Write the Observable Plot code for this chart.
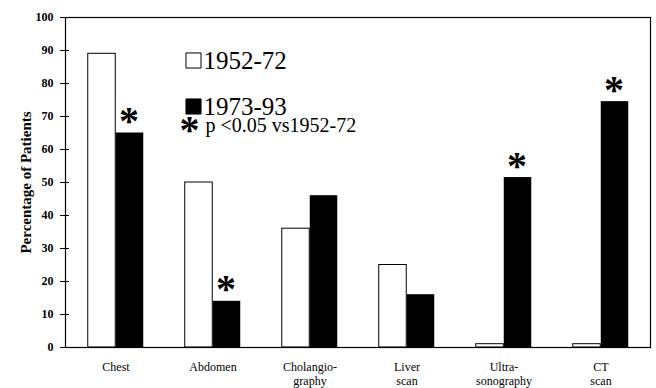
<!DOCTYPE html>
<html>
<head>
<meta charset="utf-8">
<script src="https://cdn.jsdelivr.net/npm/d3@7"></script>
<script src="https://cdn.jsdelivr.net/npm/@observablehq/plot@0.6"></script>
<style>
  html, body { margin: 0; padding: 0; background: white; }
  #chart { width: 656px; height: 388px; }
  #chart svg text { font-family: "Liberation Serif", "Times New Roman", Times, serif; }
</style>
</head>
<body>
<div id="chart"></div>
<script>
const categories = ["Chest", "Abdomen", "Cholangio-\ngraphy", "Liver\nscan", "Ultra-\nsonography", "CT\nscan"];
const values1952 = [89, 50, 36, 25, 1, 1];
const values1973 = [65, 14, 46, 16, 51.5, 74.5];
const significant = [true, true, false, false, true, true];
const seriesNames = ["1952-72", "1973-93"];
const yTicks = [0, 10, 20, 30, 40, 50, 60, 70, 80, 90, 100];
const yTitle = "Percentage of Patients";
const noteText = "p <0.05 vs1952-72";
const starGlyph = "*";

const data = categories.map((c, i) => ({cat: c, v1: values1952[i], v2: values1973[i], sig: significant[i]}));
const starData = data.filter(d => d.sig);

const serif = "Liberation Serif, Times New Roman, Times, serif";

const chart = Plot.plot({
  width: 656,
  height: 388,
  marginLeft: 65,
  marginRight: 6,
  marginTop: 17,
  marginBottom: 41,
  style: {fontFamily: serif, background: "white", color: "black"},
  x: {domain: categories, padding: 0, axis: null},
  y: {domain: [0, 100], axis: null},
  marks: [
    Plot.barY(data, {x: "cat", y: "v1", fill: "white", stroke: "black", strokeWidth: 1, insetLeft: 20.75, insetRight: 48.75}),
    Plot.barY(data, {x: "cat", y: "v2", fill: "black", insetLeft: 48.75, insetRight: 20.75}),
    Plot.frame({stroke: "black", strokeWidth: 1.2}),
    Plot.axisY({ticks: yTicks, tickSize: 9, dx: 4, tickPadding: 7, fontSize: 12, fontWeight: "bold", label: null}),
    Plot.axisX({tickSize: 0, tickPadding: 13, fontSize: 12, lineHeight: 1.2, label: null}),
    Plot.text([yTitle], {frameAnchor: "left", rotate: -90, textAnchor: "middle", lineAnchor: "middle", dx: -39, dy: 0, fontSize: 15, fontWeight: "bold", text: d => d}),
    Plot.text(starData, {x: "cat", y: "v2", text: () => starGlyph, dx: 13, dy: 1, textAnchor: "middle", lineAnchor: "bottom", fontSize: 40, fontWeight: "bold"}),
    Plot.dot([seriesNames[0]], {frameAnchor: "top-left", dx: 128, dy: 43, symbol: "square", r: 8.5, fill: "white", stroke: "black", strokeWidth: 1}),
    Plot.text([seriesNames[0]], {frameAnchor: "top-left", dx: 138, dy: 51, text: d => d, textAnchor: "start", lineAnchor: "bottom", fontSize: 25}),
    Plot.dot([seriesNames[1]], {frameAnchor: "top-left", dx: 128, dy: 89, symbol: "square", r: 8.5, fill: "black", stroke: "black", strokeWidth: 1}),
    Plot.text([seriesNames[1]], {frameAnchor: "top-left", dx: 138, dy: 97, text: d => d, textAnchor: "start", lineAnchor: "bottom", fontSize: 25}),
    Plot.text([starGlyph], {frameAnchor: "top-left", dx: 124, dy: 125, text: d => d, textAnchor: "middle", lineAnchor: "bottom", fontSize: 40, fontWeight: "bold"}),
    Plot.text([noteText], {frameAnchor: "top-left", dx: 140, dy: 114, text: d => d, textAnchor: "start", lineAnchor: "bottom", fontSize: 20})
  ]
});
document.getElementById("chart").appendChild(chart);
</script>
</body>
</html>
